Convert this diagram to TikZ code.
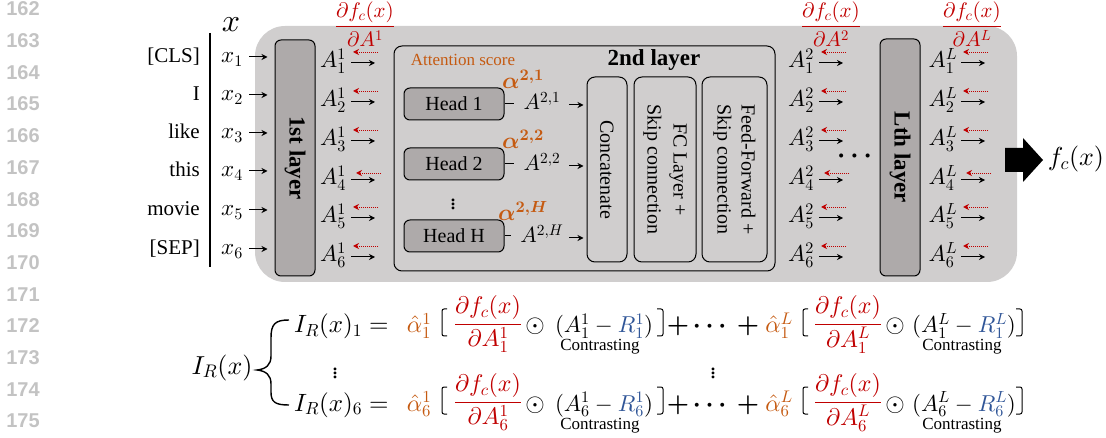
\RequirePackage{fix-cm}
\documentclass[tikz,border=0pt]{standalone}
\usepackage{amsmath,amssymb}
\usepackage{fontspec}
\setmainfont{Liberation Serif}
\newfontfamily\lnfont{Liberation Sans}
\usetikzlibrary{arrows.meta}
\DeclareFontShape{OML}{cmm}{m}{it}{<->cmmi10}{}
\DeclareFontShape{OML}{cmm}{b}{it}{<->cmmib10}{}
\DeclareFontShape{OMS}{cmsy}{m}{n}{<->cmsy10}{}
\DeclareFontShape{OMS}{cmsy}{b}{n}{<->cmbsy10}{}
\DeclareFontShape{OT1}{cmr}{m}{n}{<->cmr10}{}
\DeclareFontShape{OT1}{cmr}{bx}{n}{<->cmbx10}{}
\definecolor{outergray}{RGB}{208,206,206}
\definecolor{layergray}{RGB}{174,170,170}
\definecolor{attorange}{RGB}{197,90,17}
\definecolor{gradred}{RGB}{192,0,0}
\definecolor{refblue}{RGB}{47,85,151}
\definecolor{linenumgray}{RGB}{195,195,195}
\newcommand{\fsz}[1]{\fontsize{#1}{#1}\selectfont}
\begin{document}
\begin{tikzpicture}[x=1pt,y=-1pt,
  lnum/.style={font={\lnfont\bfseries\fsz{20}}, text=linenumgray, inner sep=0},
  word/.style={font=\fsz{21}, anchor=base east, inner sep=0},
  mth/.style={font=\fsz{23}, anchor=base, inner sep=0},
  layerbox/.style={draw, line width=1pt, fill=layergray, rounded corners=6pt, inner sep=0},
  headbox/.style={draw, line width=1pt, fill=layergray, rounded corners=6pt, inner sep=0, minimum width=100, minimum height=32, font=\fsz{20}},
  innerbox/.style={draw, line width=1pt, rounded corners=8pt, inner sep=0},
  vtext/.style={rotate=-90, inner sep=0, align=center},
  fw/.style={-{Stealth[length=6pt,width=6pt]}, line width=1pt},
  bw/.style={-{Stealth[length=6pt,width=6pt]}, draw=gradred, line width=0.9pt, dash pattern=on 1pt off 1pt},
  eq/.style={font=\fsz{25}, anchor=base, inner sep=0},
  ctr/.style={font=\fsz{17}, anchor=base, inner sep=0},
  brk/.style={line width=1pt, rounded corners=2pt},
]
\useasboundingbox (0,0) rectangle (1106,438);
% line numbers
\foreach \n [count=\kk from 0] in {162,...,175}
  \node[lnum] (ln\n) at (23,9+31.7*\kk) {\n};
% outer gray area
\node[fill=outergray, rounded corners=30pt, minimum width=762, minimum height=256, inner sep=0] (outer) at (636,154) {};
% input
\node[font=\fsz{32}, inner sep=0, anchor=base] (xlab) at (231,32) {$x$};
\coordinate (vtop) at (210,33);
\coordinate (vbot) at (210,267);
\draw[line width=1.3pt] (vtop) -- (vbot);
% layers
\node[layerbox, minimum width=40, minimum height=236] (l1) at (295,158) {};
\node[vtext, font=\fsz{23}\bfseries] (l1t) at (l1.center) {1st layer};
\node[layerbox, minimum width=40, minimum height=237] (l3) at (900,157.5) {};
\node[vtext, font=\fsz{23}\bfseries] (l3t) at (l3.center) {Lth layer};
% words and inputs
\foreach \i/\w/\wb in {1/{[CLS]}/63, 2/I/101, 3/like/139, 4/this/177, 5/movie/216, 6/{[SEP]}/255} {
  \node[word] (w\i) at (200,\wb) {\w};
  \node[mth] (x\i) at (232,\wb) {$x_{\i}$};
  \coordinate (xa\i) at (249,\wb-6);
  \draw[fw, shorten >=7pt] (xa\i) -- (xa\i -| l1.west);
}
% activations
\foreach \col/\cx in {1/333, 2/801, L/943} {
  \foreach \i/\ab/\rdy/\rdx in {1/68/16/0, 2/107/16/0, 3/146/16/0, 4/185/12/3, 5/223/16/0, 6/262/16/0} {
    \node[mth] (A\col\i) at (\cx,\ab) {$A^{\col}_{\i}$};
    \coordinate (fs\col\i) at (\cx+18,\ab-5);
    \coordinate (fe\col\i) at (\cx+42,\ab-5);
    \draw[fw] (fs\col\i) -- (fe\col\i);
    \coordinate (bs\col\i) at (\cx+45+\rdx,\ab-\rdy);
    \coordinate (be\col\i) at (\cx+20+\rdx,\ab-\rdy);
    \draw[bw] (bs\col\i) -- (be\col\i);
  }
}
% gradient labels
\node[mth, font=\fsz{21}, text=gradred] (g1) at (365,32) {$\dfrac{\partial f_c(x)}{\partial A^1}$};
\node[mth, font=\fsz{21}, text=gradred] (g2) at (831,32) {$\dfrac{\partial f_c(x)}{\partial A^2}$};
\node[mth, font=\fsz{21}, text=gradred] (gL) at (972,32) {$\dfrac{\partial f_c(x)}{\partial A^L}$};
% second layer
\node[innerbox, minimum width=381, minimum height=225] (l2) at (584.5,158.5) {};
\node[font=\fsz{17}, text=attorange, inner sep=0] (att) at (463,60) {Attention score};
\node[font=\fsz{23}\bfseries, inner sep=0] (l2t) at (654,60) {2nd layer};
\node[innerbox, minimum width=40, minimum height=185] (cc) at (607,169.5) {};
\node[vtext, font=\fsz{20}] (cct) at (cc.center) {Concatenate};
\node[innerbox, minimum width=62, minimum height=185] (fc) at (665,169.5) {};
\node[vtext, font=\fontsize{20}{26}\selectfont] (fct) at (fc.center) {FC Layer +\\Skip connection};
\node[innerbox, minimum width=65, minimum height=185] (ff) at (734.5,169.5) {};
\node[vtext, font=\fontsize{20}{24}\selectfont] (fft) at (ff.center) {Feed-Forward +\\Skip connection};
\foreach \hk/\hy/\ab in {1/104/110, 2/164/171, H/236/243} {
  \node[headbox] (h\hk) at (454,\hy) {Head \hk};
  \node[mth, font=\fsz{22}] (a2\hk) at (542,\ab) {$A^{2,\hk}$};
  \draw[line width=1pt, shorten >=9pt] (h\hk.east) -- (h\hk.east -| a2\hk.west);
  \coordinate (ca\hk) at (569,\ab-5);
  \draw[fw, shorten >=3pt] (ca\hk) -- (ca\hk -| cc.west);
  \node[font=\fsz{23}, text=attorange, inner sep=0] (al\hk) at (523,\hy-25) {$\boldsymbol{\alpha^{2,\hk}}$};
}
\node[font=\fsz{24}, inner sep=0] (hd) at (453,201) {$\boldsymbol{\vdots}$};
\node[font=\fsz{26}, inner sep=0] (dd) at (857,156) {$\boldsymbol{\cdots}$};
% output
\fill (1005,148) -- (1023,148) -- (1023,138) -- (1043,160) -- (1023,182) -- (1023,172) -- (1005,172) -- cycle;
\node[mth, font=\fsz{26}] (fcx) at (1076,166) {$f_c(x)$};
% equations
\node[eq, font=\fsz{26}] (IR) at (222,374) {$I_R(x)$};
\draw[line width=1.4pt] (289,320) .. controls (275,320) and (271,324) .. (271,338) -- (271,356) .. controls (271,365) and (266,369) .. (257,370) .. controls (266,371) and (271,375) .. (271,384) -- (271,392) .. controls (271,402) and (275,405) .. (289,405);
\foreach \rw/\bl in {1/333, 6/411} {
  \node[eq, anchor=base west] (lhs\rw) at (294,\bl) {$I_R(x)_{\rw} =$};
  \node[eq, font=\fsz{24}, text=attorange] (ah\rw) at (419,\bl) {$\hat{\alpha}^1_{\rw}$};
  \draw[brk] (447,\bl-24) -- (442,\bl-24) -- (442,\bl+3) -- (447,\bl+3);
  \node[eq, font=\fsz{24}, text=gradred] (fr\rw) at (488,\bl-3) {$\dfrac{\partial f_c(x)}{\partial A^1_{\rw}}$};
  \node[eq] (od\rw) at (535,\bl) {$\odot$};
  \node[eq, font=\fsz{23}] (pa\rw) at (604,\bl) {$(A^1_{\rw} - {\color{refblue}R^1_{\rw}})$};
  \node[ctr] (ct\rw) at (600,\bl+18) {Contrasting};
  \draw[brk] (657,\bl-24) -- (663,\bl-24) -- (663,\bl+3) -- (657,\bl+3);
  \node[eq] (pp\rw) at (678,\bl) {$\boldsymbol{+}$};
  \node[eq] (cd\rw) at (712,\bl) {$\boldsymbol{\cdots}$};
  \node[eq] (pq\rw) at (748,\bl) {$\boldsymbol{+}$};
  \node[eq, font=\fsz{24}, text=attorange] (ahL\rw) at (779,\bl) {$\hat{\alpha}^L_{\rw}$};
  \draw[brk] (808,\bl-24) -- (803,\bl-24) -- (803,\bl+3) -- (808,\bl+3);
  \node[eq, font=\fsz{24}, text=gradred] (frL\rw) at (848,\bl-3) {$\dfrac{\partial f_c(x)}{\partial A^L_{\rw}}$};
  \node[eq] (odL\rw) at (895,\bl) {$\odot$};
  \node[eq, font=\fsz{23}] (paL\rw) at (964,\bl) {$(A^L_{\rw} - {\color{refblue}R^L_{\rw}})$};
  \node[ctr] (ctL\rw) at (962,\bl+18) {Contrasting};
  \draw[brk] (1016,\bl-24) -- (1022,\bl-24) -- (1022,\bl+3) -- (1016,\bl+3);
}
\node[font=\fsz{24}, inner sep=0] (vd1) at (335,370) {$\boldsymbol{\vdots}$};
\node[font=\fsz{24}, inner sep=0] (vd2) at (713,370) {$\boldsymbol{\vdots}$};
\end{tikzpicture}
\end{document}
